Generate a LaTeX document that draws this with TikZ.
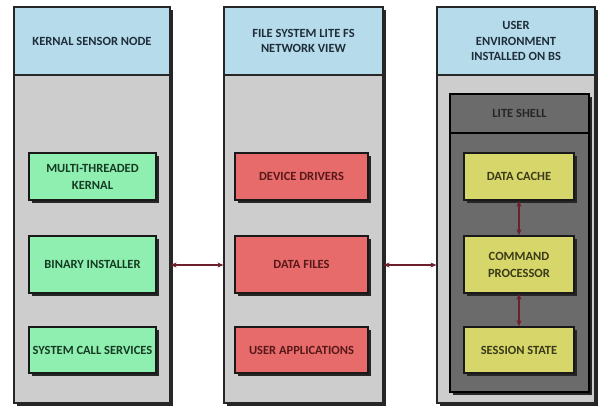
\documentclass[tikz,border=0pt]{standalone}
\usepackage{fontspec}
\setmainfont{Carlito}
\usetikzlibrary{shadows,arrows.meta}
\definecolor{hdr}{HTML}{B6DCEC}
\definecolor{body}{HTML}{CDCDCD}
\definecolor{grn}{HTML}{8EEFB0}
\definecolor{red}{HTML}{E86B6B}
\definecolor{yel}{HTML}{D6D66A}
\definecolor{dark}{HTML}{6B6B6B}
\definecolor{arr}{HTML}{6E1F2E}
\definecolor{hdrtxt}{HTML}{1F2D3B}
\definecolor{grntxt}{HTML}{173A22}
\definecolor{redtxt}{HTML}{561818}
\definecolor{yeltxt}{HTML}{3A3A18}
\tikzset{
  shad/.style={drop shadow={shadow xshift=3pt,shadow yshift=-3pt,fill=black!85,opacity=1}},
  colbox/.style={draw=black!85,line width=1.2pt,fill=body,shad,minimum height=396pt,inner sep=0pt},
  hdrbox/.style={draw=black!85,line width=1.2pt,fill=hdr,minimum height=68pt,inner sep=0pt,
     font=\bfseries\fontsize{12.5}{15.5}\selectfont,text=hdrtxt,align=center},
  item/.style={draw=black!90,line width=1.6pt,inner sep=0pt,align=center,
     font=\bfseries\fontsize{12.5}{17}\selectfont,shad},
  gitem/.style={item,fill=grn,text=grntxt,minimum width=127pt},
  ritem/.style={item,fill=red,text=redtxt,minimum width=133pt},
  yitem/.style={item,fill=yel,text=yeltxt,minimum width=110pt},
  link/.style={draw=arr,line width=1.1pt,{Stealth[length=6pt,width=5pt]}-{Stealth[length=6pt,width=5pt]}}
}
\begin{document}
\begin{tikzpicture}[x=1pt,y=-1pt]
\useasboundingbox[fill=white] (0,0) rectangle (605,410);
% columns
\node[colbox,minimum width=156pt] (col1) at (92,205) {};
\node[colbox,minimum width=159pt] (col2) at (303.5,205) {};
\node[colbox,minimum width=158pt] (col3) at (516,205) {};
\node[hdrbox,minimum width=156pt] (h1) at (92,41) {KERNAL SENSOR NODE};
\node[hdrbox,minimum width=159pt] (h2) at (303.5,41) {FILE SYSTEM LITE FS\\NETWORK VIEW};
\node[hdrbox,minimum width=158pt] (h3) at (516,41) {USER\\ENVIRONMENT\\INSTALLED ON BS};
% lite shell
\node[draw=black,line width=1.6pt,fill=dark,minimum width=139pt,minimum height=298pt,inner sep=0pt,shad] (shell) at (519.5,243) {};
\node[draw=black,line width=1.2pt,fill=dark,minimum width=139pt,minimum height=39pt,inner sep=0pt,
  font=\bfseries\fontsize{12.5}{15}\selectfont,text=black!85] (shellh) at (519.5,113.5) {LITE SHELL};
% column 1
\node[gitem,minimum height=47pt] (g1) at (92.5,176.5) {MULTI-THREADED\\KERNAL};
\node[gitem,minimum height=57pt] (g2) at (92.5,264.5) {BINARY INSTALLER};
\node[gitem,minimum height=46pt] (g3) at (92.5,350) {SYSTEM CALL SERVICES};
% column 2
\node[ritem,minimum height=47pt] (r1) at (301.5,176.5) {DEVICE DRIVERS};
\node[ritem,minimum height=57pt] (r2) at (301.5,264.5) {DATA FILES};
\node[ritem,minimum height=46pt] (r3) at (301.5,350) {USER APPLICATIONS};
% column 3
\node[yitem,minimum height=47pt] (y1) at (519,176.5) {DATA CACHE};
\node[yitem,minimum height=57pt] (y2) at (519,264.5) {COMMAND\\PROCESSOR};
\node[yitem,minimum height=46pt] (y3) at (519,350) {SESSION STATE};
% connectors
\coordinate (m) at (0,265);
\draw[link] (col1.east |- m) -- (col2.west |- m);
\draw[link] (col2.east |- m) -- (col3.west |- m);
\draw[link] (y1.south) -- (y2.north);
\draw[link] (y2.south) -- (y3.north);
\end{tikzpicture}
\end{document}
